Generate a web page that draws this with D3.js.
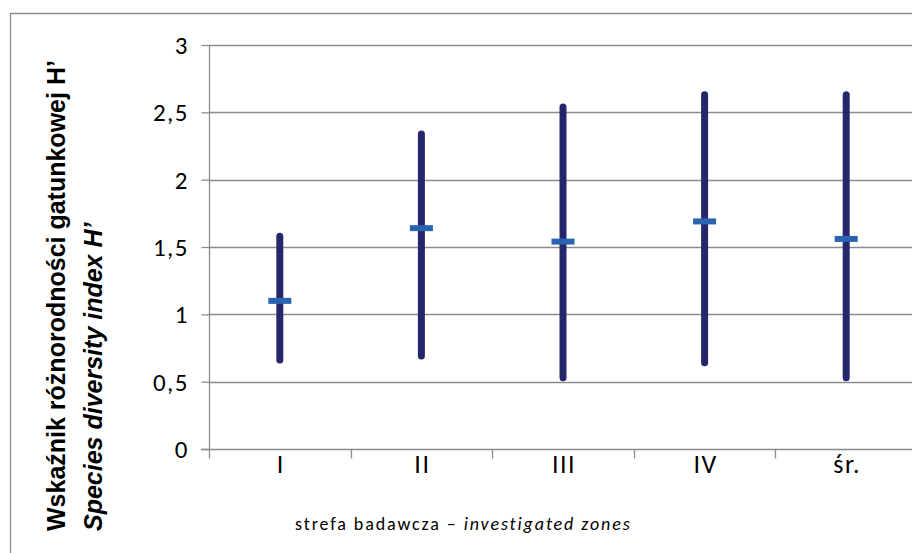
<!DOCTYPE html>
<html>
<head>
<meta charset="utf-8">
<script src="https://cdn.jsdelivr.net/npm/d3@7"></script>
<style>
  body { margin: 0; background: #fff; }
  svg { display: block; }
</style>
</head>
<body>
<div id="chart"></div>
<script>
// zones and H' range (min, max) with the mean marker
var zones = ["I", "II", "III", "IV", "śr."];
var lowValues = [0.66, 0.69, 0.53, 0.64, 0.53];
var highValues = [1.58, 2.34, 2.54, 2.63, 2.63];
var meanValues = [1.10, 1.64, 1.54, 1.69, 1.56];
var yTicks = [0, 0.5, 1, 1.5, 2, 2.5, 3];

var width = 912, height = 553;
var margins = {top: 45, right: -5, bottom: 104, left: 209};

var svg = d3.select("#chart")
    .append("svg")
        .attr("width", width)
        .attr("height", height);

/* outer frame (only top and left edges fall inside the window) */
svg.append("path")
    .attr("d", "M10.5," + height + "V13.5H" + width)
    .attr("fill", "none")
    .attr("stroke", "#8c8c8c")
    .attr("stroke-width", 1.3);

/* Scales */
var x = d3.scaleBand()
    .domain(zones)
    .range([margins.left, width - margins.right]);
var y = d3.scaleLinear()
    .domain([0, 3])
    .range([height - margins.bottom, margins.top]);

var fmt = function(d){ return String(d).replace(".", ","); };

/* gridlines */
svg.append("g")
    .selectAll("line")
    .data(yTicks.filter(function(d){ return d > 0; }))
    .enter()
    .append("line")
        .attr("x1", margins.left)
        .attr("x2", width)
        .attr("y1", function(d){ return Math.round(y(d)) + 0.5; })
        .attr("y2", function(d){ return Math.round(y(d)) + 0.5; })
        .attr("stroke", "#8c8c8c")
        .attr("stroke-width", 1.3);

/* y axis */
var yAxis = svg.append("g")
    .attr("transform", "translate(" + (margins.left + 0.5) + ",0)")
    .call(d3.axisLeft(y).tickValues(yTicks).tickFormat(fmt).tickSize(8).tickPadding(14));
yAxis.selectAll("line, path").attr("stroke", "#8c8c8c").attr("stroke-width", 1.3);
yAxis.select(".domain").attr("d", "M0," + y(3) + "V" + y(0));
yAxis.selectAll("text")
    .attr("font-family", "Carlito, Lato, sans-serif")
    .attr("font-size", 25)
    .attr("letter-spacing", 1.5)
    .attr("dx", 1.5)
    .attr("dy", "0.34em")
    .attr("fill", "#000");

/* x axis: ticks at category boundaries */
var xAxisG = svg.append("g")
    .attr("transform", "translate(0," + (Math.round(y(0)) + 0.5) + ")");
xAxisG.append("line")
    .attr("x1", margins.left - 8)
    .attr("x2", width)
    .attr("stroke", "#8c8c8c")
    .attr("stroke-width", 1.3);
xAxisG.selectAll(".tick")
    .data(zones)
    .enter()
    .append("line")
        .attr("class", "tick")
        .attr("x1", function(d){ return Math.round(x(d)) + 0.5; })
        .attr("x2", function(d){ return Math.round(x(d)) + 0.5; })
        .attr("y1", 0)
        .attr("y2", 9)
        .attr("stroke", "#8c8c8c")
        .attr("stroke-width", 1.3);
xAxisG.selectAll(".lbl")
    .data(zones)
    .enter()
    .append("text")
        .attr("class", "lbl")
        .attr("x", function(d){ return x(d) + x.bandwidth() / 2; })
        .attr("y", 23)
        .attr("text-anchor", "middle")
        .attr("font-family", "Carlito, Lato, sans-serif")
        .attr("font-size", 26)
        .attr("letter-spacing", 1.5)
        .attr("dx", 1)
        .text(function(d){ return d; });

/* range bars */
var rows = zones.map(function(z, i){
    return {zone: z, low: lowValues[i], high: highValues[i], mean: meanValues[i]};
});
var cx = function(d){ return x(d.zone) + x.bandwidth() / 2; };

svg.append("g")
    .selectAll("line")
    .data(rows)
    .enter()
    .append("line")
        .attr("x1", cx)
        .attr("x2", cx)
        .attr("y1", function(d){ return y(d.low); })
        .attr("y2", function(d){ return y(d.high); })
        .attr("stroke", "#25266b")
        .attr("stroke-width", 7)
        .attr("stroke-linecap", "round");

svg.append("g")
    .selectAll("rect")
    .data(rows)
    .enter()
    .append("rect")
        .attr("x", function(d){ return cx(d) - 11.5; })
        .attr("y", function(d){ return y(d.mean) - 3; })
        .attr("width", 23)
        .attr("height", 6)
        .attr("fill", "#2a63b1");

/* axis titles */
var yTitle = svg.append("text")
    .attr("transform", "translate(65,531) rotate(-90)")
    .attr("font-family", "Liberation Sans, Arial, sans-serif")
    .attr("font-size", 25)
    .attr("font-weight", "bold")
    .attr("fill", "#000");
yTitle.append("tspan").attr("x", 0).attr("y", 0).text("Wskaźnik różnorodności gatunkowej H’");
yTitle.append("tspan").attr("x", 0).attr("y", 37).attr("font-style", "italic").text("Species diversity index H’");

var xTitle = svg.append("text")
    .attr("x", 295)
    .attr("y", 530)
    .attr("font-family", "Carlito, Lato, sans-serif")
    .attr("font-size", 18)
    .attr("letter-spacing", 1.9)
    .attr("fill", "#000");
xTitle.append("tspan").text("strefa badawcza – ");
xTitle.append("tspan").attr("font-style", "italic").text("investigated zones");
</script>
</body>
</html>
